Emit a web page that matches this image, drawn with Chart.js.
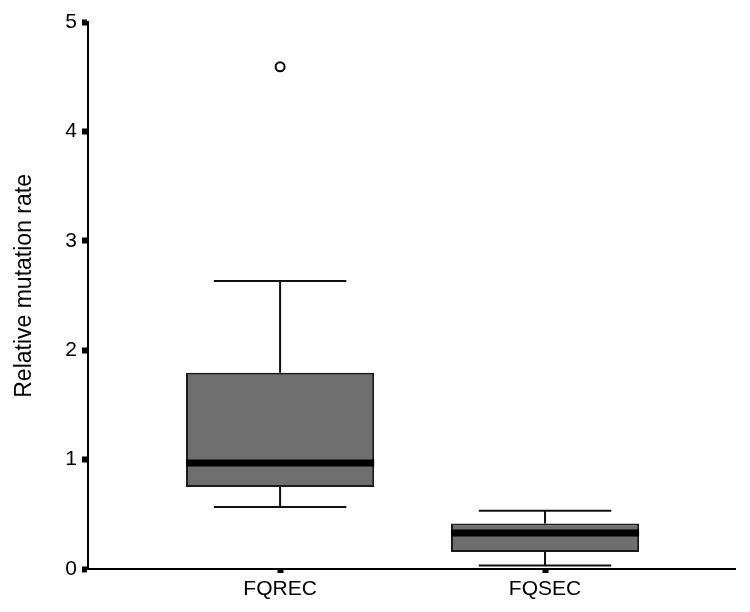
<!DOCTYPE html>
<html lang="en">
  <head>
    <meta charset="UTF-8" />
    <title>Relative mutation rate box plot</title>
    <script src="https://cdn.jsdelivr.net/npm/chart.js"></script>
    <style>
      body { margin: 0; background: #fff; }
    </style>
  </head>
  <body>
    <canvas id="boxChart" width="750" height="612"></canvas>
    <script>
      // values
      const categories = ["FQREC", "FQSEC"];
      const whiskerLow = [0.566, 0.033];
      const q1 = [0.749, 0.155];
      const median = [0.968, 0.33];
      const q3 = [1.795, 0.416];
      const whiskerHigh = [2.633, 0.532];
      const outliers = [{ group: 0, value: 4.59 }];
      const yTicks = [0, 1, 2, 3, 4, 5];

      const family = "Arial, 'Liberation Sans', sans-serif";
      const font = { family: family, size: 21 };

      // box = floating bar from q1 to q3, x position 1, 2 ...
      const boxData = categories.map((c, i) => ({ x: i + 1, y: [q1[i], q3[i]] }));
      const outlierData = outliers.map((o) => ({ x: o.group + 1, y: o.value }));

      // whiskers and median line drawn with the chart's scales
      const boxExtras = {
        id: "boxExtras",
        beforeDatasetsDraw(chart) {
          const { ctx, scales } = chart;
          const x = scales.x, y = scales.y;
          ctx.save();
          ctx.strokeStyle = "#111";
          ctx.lineWidth = 2;
          categories.forEach((c, i) => {
            const xc = x.getPixelForValue(i + 1);
            const half = x.getPixelForValue(1.25) - x.getPixelForValue(1);
            ctx.beginPath();
            ctx.moveTo(xc, y.getPixelForValue(whiskerHigh[i]));
            ctx.lineTo(xc, y.getPixelForValue(q3[i]));
            ctx.moveTo(xc, y.getPixelForValue(whiskerLow[i]));
            ctx.lineTo(xc, y.getPixelForValue(q1[i]));
            ctx.moveTo(xc - half, y.getPixelForValue(whiskerHigh[i]));
            ctx.lineTo(xc + half, y.getPixelForValue(whiskerHigh[i]));
            ctx.moveTo(xc - half, y.getPixelForValue(whiskerLow[i]));
            ctx.lineTo(xc + half, y.getPixelForValue(whiskerLow[i]));
            ctx.stroke();
          });
          ctx.restore();
        },
        afterDatasetsDraw(chart) {
          const { ctx, scales } = chart;
          const meta = chart.getDatasetMeta(0);
          ctx.save();
          ctx.strokeStyle = "#000";
          ctx.lineWidth = 7;
          meta.data.forEach((bar, i) => {
            const ym = scales.y.getPixelForValue(median[i]);
            ctx.beginPath();
            ctx.moveTo(bar.x - bar.width / 2, ym);
            ctx.lineTo(bar.x + bar.width / 2, ym);
            ctx.stroke();
          });
          ctx.restore();
        },
      };

      new Chart(document.getElementById("boxChart"), {
        type: "bar",
        data: {
          datasets: [
            {
              data: boxData,
              backgroundColor: "#6e6e6e",
              borderColor: "#1a1a1a",
              borderWidth: 2,
              borderSkipped: false,
              barPercentage: 0.71,
              categoryPercentage: 1,
            },
            {
              type: "scatter",
              data: outlierData,
              pointStyle: "circle",
              radius: 4.5,
              borderWidth: 2,
              borderColor: "#000",
              backgroundColor: "#fff",
            },
          ],
        },
        plugins: [boxExtras],
        options: {
          responsive: false,
          animation: false,
          layout: { padding: { top: 22, right: 15, left: 6, bottom: 0 } },
          plugins: { legend: { display: false }, tooltip: { enabled: false } },
          scales: {
            x: {
              type: "linear",
              min: 0.275,
              max: 2.717,
              offset: false,
              afterBuildTicks: (scale) => {
                scale.ticks = categories.map((c, i) => ({ value: i + 1 }));
              },
              afterFit: (scale) => { scale.height = 43; },
              ticks: {
                color: "#000",
                font: font,
                padding: 4,
                callback: (v) => categories[v - 1],
              },
              grid: { offset: false, drawOnChartArea: false, tickLength: 4, tickWidth: 6, tickColor: "#000" },
              border: { color: "#000", width: 2 },
            },
            y: {
              min: 0,
              max: 5,
              afterBuildTicks: (scale) => {
                scale.ticks = yTicks.map((v) => ({ value: v }));
              },
              afterFit: (scale) => { scale.width = 82; },
              ticks: { color: "#000", font: font, padding: 5 },
              grid: { drawOnChartArea: false, tickLength: 6, tickWidth: 6, tickColor: "#000" },
              border: { color: "#000", width: 2 },
              title: {
                display: true,
                // leading spaces move the title a little upward, as in the original
                text: "   Relative mutation rate",
                color: "#000",
                font: { family: family, size: 23 },
                padding: { top: 5, bottom: 0 },
              },
            },
          },
        },
      });
    </script>
  </body>
</html>
